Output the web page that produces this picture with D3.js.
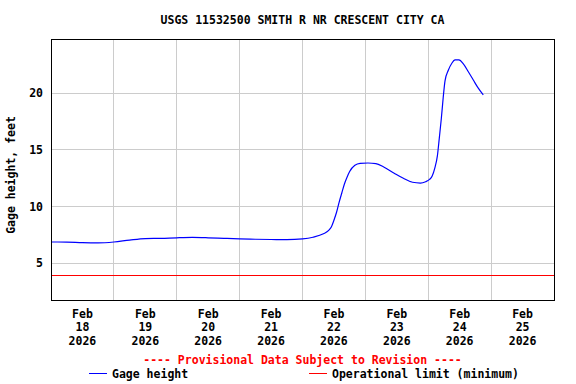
<!DOCTYPE html>
<html lang="en">
<head>
<meta charset="UTF-8">
<title>USGS 11532500 SMITH R NR CRESCENT CITY CA</title>
<script src="https://d3js.org/d3.v7.min.js"></script>
<style>
  body { margin: 0; background: #fff; }
  svg text { font-family: "DejaVu Sans Mono", monospace; font-weight: bold; font-size: 11.5px; }
</style>
</head>
<body>
<svg id="chart" width="576" height="384"></svg>
<script>
// gage height readings (hours after Feb 18 2026 00:00, feet)
const hours = [0, 6, 12, 18, 24, 30, 36, 42, 48, 54, 60, 66, 72, 78, 84, 90, 96, 100, 104, 106,
  107, 108, 109, 110, 111, 112, 113, 114, 116, 118, 121, 124, 127, 131, 134.5, 138, 141, 143,
  144.5, 145.5, 146.5, 147.5, 148.2, 149, 149.7, 150.4, 151.7, 153, 154.2, 155.7, 157.4, 159.3,
  161.2, 163.1, 165];
const gageHeight = [6.88, 6.87, 6.82, 6.8, 6.88, 7.05, 7.18, 7.2, 7.25, 7.28, 7.25, 7.2, 7.15,
  7.12, 7.1, 7.08, 7.15, 7.3, 7.6, 7.9, 8.2, 8.8, 9.5, 10.4, 11.2, 12.0, 12.6, 13.1, 13.65, 13.82,
  13.85, 13.8, 13.5, 12.95, 12.5, 12.15, 12.08, 12.2, 12.4, 12.7, 13.4, 14.5, 16.0, 17.8, 19.6,
  21.1, 22.05, 22.65, 22.94, 22.95, 22.6, 21.9, 21.17, 20.45, 19.85];
const operationalLimit = 3.94;

const dayLabels = ["18", "19", "20", "21", "22", "23", "24", "25"];
const yTicks = [5, 10, 15, 20];

const svg = d3.select("#chart");
const plotLeft = 51, plotRight = 554, plotTop = 39, plotBottom = 300;
const start = new Date(2026, 1, 18);
const hourMs = 3600 * 1000;

const x = d3.scaleTime()
  .domain([start, new Date(2026, 1, 26)])
  .range([plotLeft, plotRight]);
const y = d3.scaleLinear().domain([1.76, 24.79]).range([plotBottom, plotTop]);

const data = hours.map((h, i) => ({ t: new Date(+start + h * hourMs), v: gageHeight[i] }));
const dayStarts = d3.range(1, 8).map(d => new Date(2026, 1, 18 + d));

// grid
svg.append("g").selectAll("line").data(dayStarts).join("line")
  .attr("x1", d => x(d)).attr("x2", d => x(d))
  .attr("y1", plotTop).attr("y2", plotBottom)
  .attr("stroke", "#cccccc").attr("shape-rendering", "crispEdges");
svg.append("g").selectAll("line").data(yTicks).join("line")
  .attr("x1", plotLeft).attr("x2", plotRight)
  .attr("y1", d => y(d)).attr("y2", d => y(d))
  .attr("stroke", "#cccccc").attr("shape-rendering", "crispEdges");

// operational limit
svg.append("line")
  .attr("x1", plotLeft).attr("x2", plotRight)
  .attr("y1", y(operationalLimit)).attr("y2", y(operationalLimit))
  .attr("stroke", "#ff0000").attr("shape-rendering", "crispEdges");

// gage height line
const line = d3.line().x(d => x(d.t)).y(d => y(d.v)).curve(d3.curveMonotoneX);
svg.append("path").datum(data)
  .attr("d", line).attr("fill", "none").attr("stroke", "#0000ff").attr("stroke-width", 1.2);

// frame
svg.append("rect")
  .attr("x", plotLeft).attr("y", plotTop)
  .attr("width", plotRight - plotLeft).attr("height", plotBottom - plotTop)
  .attr("fill", "none").attr("stroke", "#000").attr("shape-rendering", "crispEdges");

// y tick labels
svg.append("g").selectAll("text").data(yTicks).join("text")
  .attr("x", 43).attr("y", d => y(d)).attr("dy", "0.35em")
  .attr("text-anchor", "end").text(d => d);

// x tick labels at noon of each day
const xl = svg.append("g").selectAll("g").data(dayLabels).join("g")
  .attr("transform", (d, i) => `translate(${x(new Date(2026, 1, 18 + i, 12))},0)`);
xl.append("text").attr("y", 318).attr("text-anchor", "middle").text("Feb");
xl.append("text").attr("y", 331).attr("text-anchor", "middle").text(d => d);
xl.append("text").attr("y", 345).attr("text-anchor", "middle").text("2026");

// titles
svg.append("text").attr("x", (plotLeft + plotRight) / 2).attr("y", 24)
  .attr("text-anchor", "middle").text("USGS 11532500 SMITH R NR CRESCENT CITY CA");
svg.append("text").attr("transform", "translate(15,175) rotate(-90)")
  .attr("text-anchor", "middle").text("Gage height, feet");
svg.append("text").attr("x", (plotLeft + plotRight) / 2).attr("y", 364)
  .attr("text-anchor", "middle").attr("fill", "#ff0000")
  .text("---- Provisional Data Subject to Revision ----");

// legend
svg.append("line").attr("x1", 89).attr("x2", 107).attr("y1", 373.5).attr("y2", 373.5)
  .attr("stroke", "#0000ff");
svg.append("text").attr("x", 112).attr("y", 378).text("Gage height");
svg.append("line").attr("x1", 309).attr("x2", 327).attr("y1", 373.5).attr("y2", 373.5)
  .attr("stroke", "#ff0000");
svg.append("text").attr("x", 332).attr("y", 378).text("Operational limit (minimum)");
</script>
</body>
</html>
